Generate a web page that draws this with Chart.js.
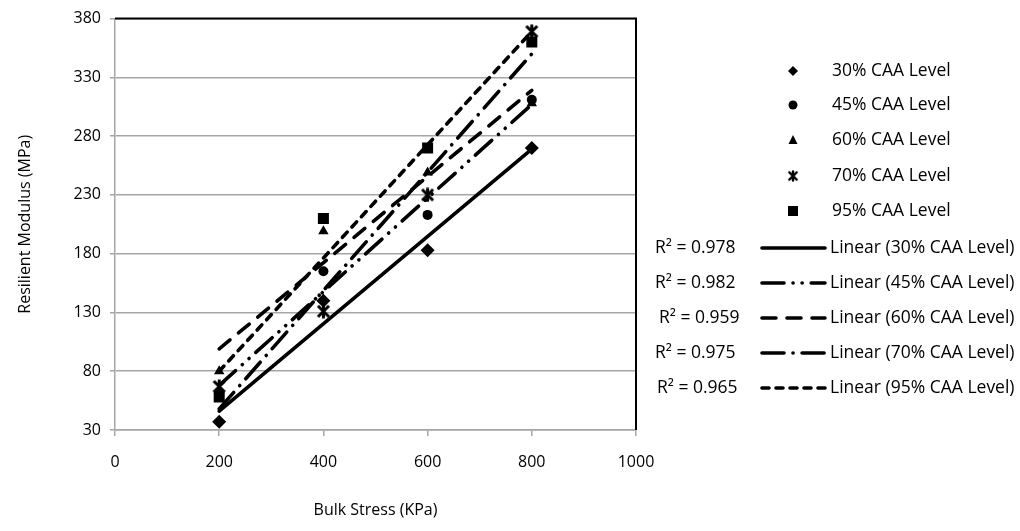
<!DOCTYPE html>
<html>
<head>
<meta charset="utf-8">
<script src="https://cdn.jsdelivr.net/npm/chart.js@4"></script>
<style>
    html, body { margin: 0; padding: 0; background: #fff; }
    #wrap { width: 1020px; height: 531px; position: relative; }
</style>
</head>
<body>
<div id="wrap"><canvas id="chart" width="1020" height="531"></canvas></div>
<script>
// Data
const bulkStress = [200, 400, 600, 800];
const caa30 = [37, 140, 183, 270];
const caa45 = [62, 165, 213, 311];
const caa60 = [80, 199, 249, 308];
const caa70 = [67, 131, 230, 369];
const caa95 = [58, 210, 270, 360];

// Trendline ends at x = 200 and x = 800
const trendX = [200, 800];
const trend30 = [46, 269];
const trend45 = [68, 307];
const trend60 = [99, 319];
const trend70 = [48, 350];
const trend95 = [80, 369];

const seriesNames = ['30% CAA Level', '45% CAA Level', '60% CAA Level', '70% CAA Level', '95% CAA Level'];
const rSquared = ['0.978', '0.982', '0.959', '0.975', '0.965'];
const xTicks = [0, 200, 400, 600, 800, 1000];
const yTicks = [30, 80, 130, 180, 230, 280, 330, 380];

const FONT = '"Open Sans", sans-serif';

// Excel-like star marker: an X with a vertical bar
function makeStar(size) {
    const c = document.createElement('canvas');
    c.width = size; c.height = size;
    const g = c.getContext('2d');
    g.strokeStyle = '#000';
    g.lineWidth = 3;
    const m = 2;
    g.beginPath();
    g.moveTo(m, m); g.lineTo(size - m, size - m);
    g.moveTo(size - m, m); g.lineTo(m, size - m);
    g.moveTo(size / 2, 0.5); g.lineTo(size / 2, size - 0.5);
    g.stroke();
    return c;
}
const starImg = makeStar(15);

const toPts = (ys, xs) => ys.map((y, i) => ({ x: xs[i], y }));

const markerStyles = ['rectRot', 'circle', 'triangle', starImg, 'rect'];
const markerRadius = [7, 5, 6, 7, 7.8];
const dashes = [[], [22, 9, 0.1, 9, 0.1, 9], [14, 11], [22, 9, 0.1, 9], [7, 7]];
const trends = [trend30, trend45, trend60, trend70, trend95];
const scatterData = [caa30, caa45, caa60, caa70, caa95];

const datasets = [];
trends.forEach((t, i) => {
    datasets.push({
        label: 'Linear (' + seriesNames[i] + ')',
        data: toPts(t, trendX),
        showLine: true,
        borderColor: '#000',
        borderWidth: 3.6,
        borderDash: dashes[i],
        borderCapStyle: 'round',
        pointRadius: 0,
        order: 0
    });
});
scatterData.forEach((d, i) => {
    datasets.push({
        label: seriesNames[i],
        data: toPts(d, bulkStress),
        showLine: false,
        pointStyle: markerStyles[i],
        pointRadius: markerRadius[i],
        backgroundColor: '#000',
        borderColor: '#000',
        borderWidth: 0,
        order: 1
    });
});

function drawMarker(ctx, i, x, y) {
    ctx.save();
    ctx.fillStyle = '#000';
    ctx.strokeStyle = '#000';
    ctx.beginPath();
    if (i === 0) {
        ctx.moveTo(x, y - 5); ctx.lineTo(x + 5, y); ctx.lineTo(x, y + 5); ctx.lineTo(x - 5, y);
        ctx.closePath(); ctx.fill();
    } else if (i === 1) {
        ctx.arc(x, y, 4.5, 0, Math.PI * 2); ctx.fill();
    } else if (i === 2) {
        ctx.moveTo(x, y - 5); ctx.lineTo(x + 4.5, y + 4); ctx.lineTo(x - 4.5, y + 4);
        ctx.closePath(); ctx.fill();
    } else if (i === 3) {
        ctx.drawImage(starImg, x - 6, y - 6, 12, 12);
    } else {
        ctx.fillRect(x - 5, y - 5, 10, 10);
    }
    ctx.restore();
}

const legendPlugin = {
    id: 'excelLegend',
    afterDraw(chart) {
        const ctx = chart.ctx;
        const area = chart.chartArea;
        ctx.save();
        // plot area border: black top and right
        ctx.strokeStyle = '#000';
        ctx.lineWidth = 2;
        ctx.beginPath();
        ctx.moveTo(area.left, area.top);
        ctx.lineTo(area.right, area.top);
        ctx.lineTo(area.right, area.bottom);
        ctx.stroke();

        ctx.font = '17.5px ' + FONT;
        ctx.fillStyle = '#000';
        ctx.textBaseline = 'middle';

        // marker entries
        const markerRows = [71, 105, 140, 176, 211];
        markerRows.forEach((y, i) => {
            drawMarker(ctx, i, 793, y);
            ctx.textAlign = 'left';
            ctx.fillText(seriesNames[i], 832, y);
        });

        // trendline entries with R² on the left
        const lineRows = [248, 283, 318, 353, 388];
        const rX = [655, 655, 659, 655, 657];
        lineRows.forEach((y, i) => {
            ctx.textAlign = 'left';
            ctx.fillText('R\u00b2 = ' + rSquared[i], rX[i], y);
            ctx.beginPath();
            ctx.setLineDash(dashes[i]);
            ctx.lineCap = 'round';
            ctx.lineWidth = 3.6;
            ctx.moveTo(762, y);
            ctx.lineTo(825, y);
            ctx.stroke();
            ctx.setLineDash([]);
            ctx.fillText('Linear (' + seriesNames[i] + ')', 830, y);
        });
        ctx.restore();
    }
};

new Chart(document.getElementById('chart'), {
    type: 'scatter',
    data: { datasets },
    options: {
        responsive: false,
        animation: false,
        layout: { padding: { left: 0, right: 384, top: 18, bottom: 0 } },
        plugins: {
            legend: { display: false },
            tooltip: { enabled: false }
        },
        scales: {
            x: {
                type: 'linear',
                min: 0,
                max: 1000,
                afterBuildTicks: (s) => { s.ticks = xTicks.map(v => ({ value: v })); },
                afterFit: (s) => { s.height = 101; },
                grid: { drawOnChartArea: false, drawTicks: true, tickLength: 6, color: '#a6a6a6', lineWidth: 1.5 },
                border: { display: true, color: '#a6a6a6', width: 1.5 },
                ticks: { color: '#000', font: { family: FONT, size: 16 }, padding: 17, maxRotation: 0, callback: (v) => String(v) },
                title: { display: true, text: 'Bulk Stress (KPa)', color: '#000', font: { family: FONT, size: 16 }, padding: { top: 0, bottom: 11 } }
            },
            y: {
                type: 'linear',
                min: 30,
                max: 380,
                afterBuildTicks: (s) => { s.ticks = yTicks.map(v => ({ value: v })); },
                afterFit: (s) => { s.width = 115; },
                grid: { color: '#a6a6a6', lineWidth: 1.5, tickLength: 5 },
                border: { display: true, color: '#a6a6a6', width: 1.5 },
                ticks: { color: '#000', font: { family: FONT, size: 16 }, padding: 9, callback: (v) => String(v) },
                title: { display: true, text: 'Resilient Modulus (MPa)', color: '#000', font: { family: FONT, size: 16 }, padding: { top: 16, bottom: 0 } }
            }
        }
    },
    plugins: [legendPlugin]
});
</script>
</body>
</html>
